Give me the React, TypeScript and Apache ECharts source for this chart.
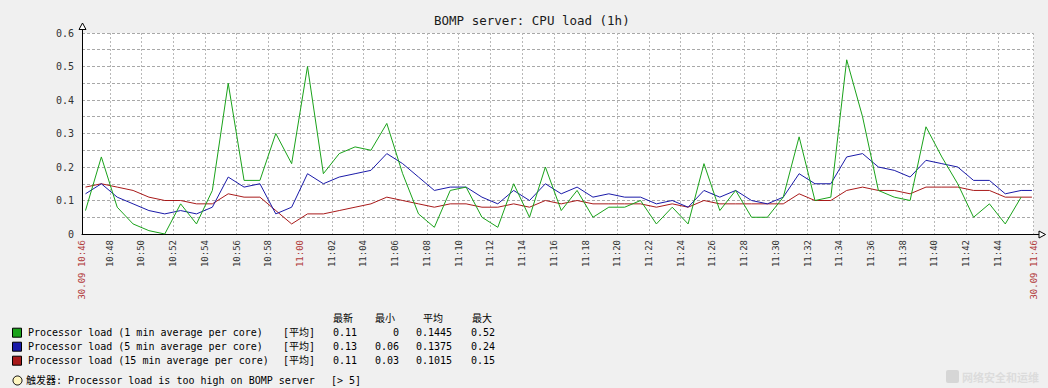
import React, { useEffect, useRef } from 'react';
import * as echarts from 'echarts';

const titleText = 'BOMP server: CPU load (1h)';
const seriesNames = [
  'Processor load (1 min average per core)',
  'Processor load (5 min average per core)',
  'Processor load (15 min average per core)',
];
const seriesColors = ['#1AA21A', '#1A1AA8', '#A81A1A'];

// one sample per minute, first at 10:46:28
const load1 = [
  0.07, 0.23, 0.08, 0.03, 0.01, 0, 0.09, 0.03, 0.13, 0.45,
  0.16, 0.16, 0.30, 0.21, 0.50, 0.18, 0.24, 0.26, 0.25, 0.33,
  0.18, 0.06, 0.02, 0.13, 0.14, 0.05, 0.02, 0.15, 0.05, 0.20,
  0.07, 0.13, 0.05, 0.08, 0.08, 0.10, 0.03, 0.08, 0.03, 0.21,
  0.07, 0.13, 0.05, 0.05, 0.11, 0.29, 0.10, 0.11, 0.52, 0.35,
  0.13, 0.11, 0.10, 0.32, 0.23, 0.15, 0.05, 0.09, 0.03, 0.11,
];
const load5 = [
  0.12, 0.15, 0.11, 0.09, 0.07, 0.06, 0.07, 0.06, 0.08, 0.17,
  0.14, 0.15, 0.06, 0.08, 0.18, 0.15, 0.17, 0.18, 0.19, 0.24,
  0.21, 0.17, 0.13, 0.14, 0.14, 0.11, 0.09, 0.13, 0.10, 0.15,
  0.12, 0.14, 0.11, 0.12, 0.11, 0.11, 0.09, 0.10, 0.08, 0.13,
  0.11, 0.13, 0.10, 0.09, 0.11, 0.18, 0.15, 0.15, 0.23, 0.24,
  0.20, 0.19, 0.17, 0.22, 0.21, 0.20, 0.16, 0.16, 0.12, 0.13,
];
const load15 = [
  0.14, 0.15, 0.14, 0.13, 0.11, 0.10, 0.10, 0.09, 0.09, 0.12,
  0.11, 0.11, 0.07, 0.03, 0.06, 0.06, 0.07, 0.08, 0.09, 0.11,
  0.10, 0.09, 0.08, 0.09, 0.09, 0.08, 0.08, 0.09, 0.08, 0.10,
  0.09, 0.10, 0.09, 0.09, 0.09, 0.09, 0.08, 0.09, 0.08, 0.10,
  0.09, 0.09, 0.09, 0.09, 0.09, 0.12, 0.10, 0.10, 0.13, 0.14,
  0.13, 0.13, 0.12, 0.14, 0.14, 0.14, 0.13, 0.13, 0.11, 0.11,
];

const firstSampleMin = 0.47; // minutes after 10:46
const viewStartMin = 0.25; // 10:46:15
const viewEndMin = 60.25; // 11:46:15
const holdUntilMin = 60.15; // 5/15 min lines keep last value up to here

const tickMinutes = [2, 4, 6, 8, 10, 12, 14, 16, 18, 20, 22, 24, 26, 28, 30, 32, 34, 36, 38, 40, 42, 44, 46, 48, 50, 52, 54, 56, 58];
const tickLabels = [
  '10:48', '10:50', '10:52', '10:54', '10:56', '10:58', '11:00', '11:02', '11:04', '11:06',
  '11:08', '11:10', '11:12', '11:14', '11:16', '11:18', '11:20', '11:22', '11:24', '11:26',
  '11:28', '11:30', '11:32', '11:34', '11:36', '11:38', '11:40', '11:42', '11:44',
];
const startLabel = '30.09 10:46';
const endLabel = '30.09 11:46';
const hourMarkMin = 14;

const statHeaders = ['最新', '最小', '平均', '最大'];
const statLast = ['0.11', '0.13', '0.11'];
const statMin = ['0', '0.06', '0.03'];
const statAvg = ['0.1445', '0.1375', '0.1015'];
const statMax = ['0.52', '0.24', '0.15'];
const funcLabel = '[平均]';
const triggerText = '触发器: Processor load is too high on BOMP server';
const triggerThreshold = '[> 5]';
const watermark = '网络安全和运维';

const MONO = "'DejaVu Sans Mono', 'Noto Sans CJK SC', monospace";
const RED = '#B03A3A';

export default function App() {
  const ref = useRef<HTMLDivElement>(null);

  useEffect(() => {
    if (!ref.current) return;
    const chart = echarts.init(ref.current, undefined, { renderer: 'svg' });

    const toPairs = (vals: number[], hold: boolean) => {
      const pts: [number, number][] = vals.map((v, i) => [firstSampleMin + i, v]);
      if (hold) pts.push([holdUntilMin, vals[vals.length - 1]]);
      return pts;
    };
    const allSeries = [load1, load5, load15];

    const labelValues = [viewStartMin, ...tickMinutes, viewEndMin];
    const labelFor = (v: number) => {
      if (Math.abs(v - viewStartMin) < 1e-6) return startLabel;
      if (Math.abs(v - viewEndMin) < 1e-6) return endLabel;
      const idx = tickMinutes.findIndex((m) => Math.abs(m - v) < 1e-6);
      return idx >= 0 ? tickLabels[idx] : '';
    };

    const L = 82;
    const T = 33;
    const B = 234;
    const R = 1033.5;

    const graphics: any[] = [];
    // axis extensions and open arrowheads
    graphics.push({ type: 'line', shape: { x1: L + 0.5, y1: T, x2: L + 0.5, y2: 28 }, style: { stroke: '#000', lineWidth: 1 }, z: 100 });
    graphics.push({ type: 'polygon', shape: { points: [[L - 3, 29.5], [L + 4, 29.5], [L + 0.5, 23]] }, style: { fill: '#fff', stroke: '#000', lineWidth: 1 }, z: 100 });
    graphics.push({ type: 'line', shape: { x1: R, y1: B + 0.5, x2: 1039, y2: B + 0.5 }, style: { stroke: '#000', lineWidth: 1 }, z: 100 });
    graphics.push({ type: 'polygon', shape: { points: [[1039, B - 3], [1039, B + 4], [1045.5, B + 0.5]] }, style: { fill: '#fff', stroke: '#000', lineWidth: 1 }, z: 100 });

    // legend table
    const headerX = [333, 375, 423, 472];
    statHeaders.forEach((h, i) => {
      graphics.push({ type: 'text', x: headerX[i], y: 318.5, style: { text: h, font: `10px ${MONO}`, fill: '#000', textVerticalAlign: 'middle' } });
    });
    const colRight = [357, 399, 452, 495];
    seriesNames.forEach((name, i) => {
      const y = 332.7 + i * 14;
      graphics.push({ type: 'rect', shape: { x: 12.5, y: y - 4.5, width: 9, height: 9 }, style: { fill: seriesColors[i], stroke: '#000', lineWidth: 1 } });
      graphics.push({ type: 'text', x: 28, y, style: { text: name, font: `10px ${MONO}`, fill: '#000', textVerticalAlign: 'middle' } });
      graphics.push({ type: 'text', x: 283, y, style: { text: funcLabel, font: `10px ${MONO}`, fill: '#000', textVerticalAlign: 'middle' } });
      [statLast[i], statMin[i], statAvg[i], statMax[i]].forEach((s, c) => {
        graphics.push({ type: 'text', x: colRight[c], y, style: { text: s, font: `10px ${MONO}`, fill: '#000', textAlign: 'right', textVerticalAlign: 'middle' } });
      });
    });
    graphics.push({ type: 'circle', shape: { cx: 17.5, cy: 380.5, r: 4.5 }, style: { fill: '#FFF6C0', stroke: '#000', lineWidth: 1 } });
    graphics.push({ type: 'text', x: 26, y: 380.5, style: { text: triggerText, font: `10px ${MONO}`, fill: '#000', textVerticalAlign: 'middle' } });
    graphics.push({ type: 'text', x: 331, y: 380.5, style: { text: triggerThreshold, font: `10px ${MONO}`, fill: '#000', textVerticalAlign: 'middle' } });
    graphics.push({ type: 'rect', shape: { x: 946, y: 370, width: 13, height: 13, r: 2 }, style: { fill: '#d6d6d6' } });
    graphics.push({ type: 'text', x: 962, y: 376.5, style: { text: watermark, font: `bold 11px 'Noto Sans CJK SC'`, fill: '#dcdcdc', textVerticalAlign: 'middle' } });

    chart.setOption({
      animation: false,
      backgroundColor: '#F0F0F0',
      title: {
        text: titleText,
        left: 429,
        top: 9,
        textStyle: { fontFamily: MONO, fontSize: 12.5, fontWeight: 'normal', color: '#1a1a1a' },
      },
      grid: {
        left: L,
        top: T,
        right: 1048 - R,
        bottom: 388 - B,
        show: true,
        backgroundColor: '#FFFFFF',
        borderWidth: 0,
      },
      xAxis: {
        type: 'value',
        min: viewStartMin,
        max: viewEndMin,
        axisLine: { show: true, onZero: false, lineStyle: { color: '#000', width: 1 } },
        axisTick: { show: false, customValues: labelValues },
        splitLine: { show: true, lineStyle: { color: '#B8B8B8', type: [2, 2], width: 1 } },
        axisLabel: {
          customValues: labelValues,
          rotate: 90,
          margin: 6,
          fontFamily: MONO,
          fontSize: 9,
          color: (v: any) => {
            const n = Number(v);
            return Math.abs(n - viewStartMin) < 1e-6 || Math.abs(n - viewEndMin) < 1e-6 || Math.abs(n - hourMarkMin) < 1e-6 ? RED : '#333';
          },
          formatter: (v: number) => labelFor(v),
        },
      },
      yAxis: {
        type: 'value',
        min: 0,
        max: 0.6,
        interval: 0.05,
        axisLine: { show: true, lineStyle: { color: '#000', width: 1 } },
        axisTick: { show: false },
        splitLine: { show: true, lineStyle: { color: '#A8A8A8', type: [3, 2], width: 1 } },
        axisLabel: {
          margin: 8,
          fontFamily: MONO,
          fontSize: 10,
          color: '#333',
          formatter: (v: number) => {
            const h = Math.round(v * 100);
            if (h % 10 !== 0) return '';
            return String(h / 100);
          },
        },
      },
      series: allSeries.map((vals, i) => ({
        name: seriesNames[i],
        type: 'line',
        data: toPairs(vals, i > 0),
        showSymbol: false,
        symbol: 'none',
        lineStyle: { color: seriesColors[i], width: 1 },
        itemStyle: { color: seriesColors[i] },
        z: 10 - i,
      })),
      graphic: graphics,
    });

    return () => chart.dispose();
  }, []);

  return (
    <div
      ref={ref}
      style={{ position: 'fixed', left: 0, top: 0, width: 1048, height: 388 }}
    />
  );
}
